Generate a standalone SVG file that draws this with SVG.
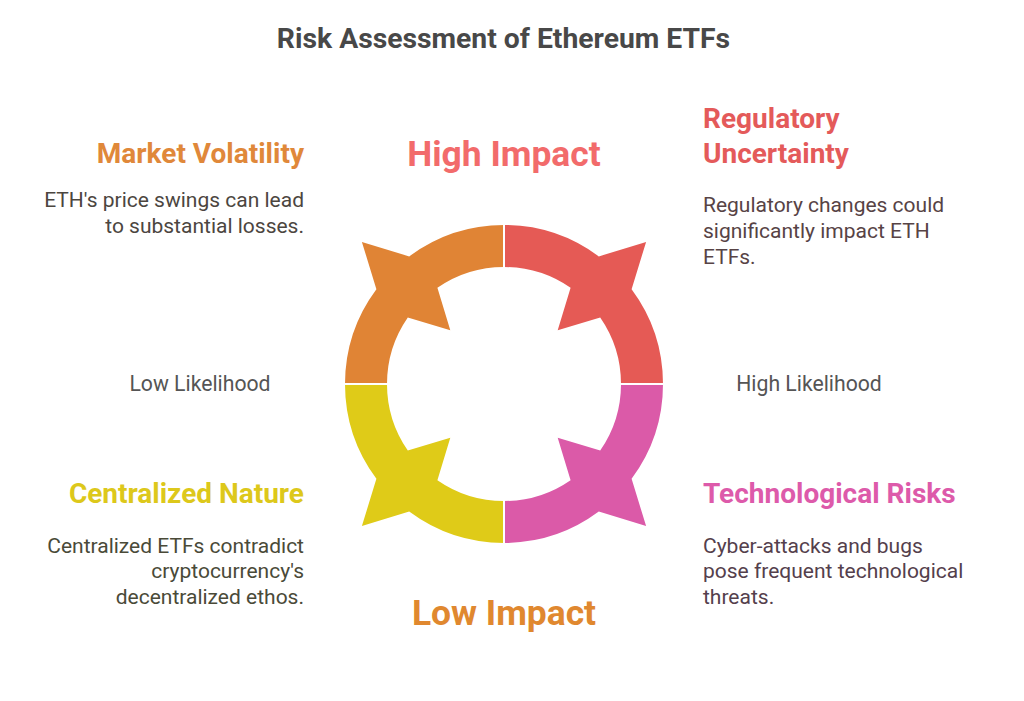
<svg xmlns="http://www.w3.org/2000/svg" width="1024" height="701" viewBox="0 0 1024 701">
<style>
text{font-family:Roboto,"Liberation Sans",sans-serif}
.title{font-size:28.3px;font-weight:700;fill:#484848}
.axis{font-size:35.4px;font-weight:700}
.head{font-size:28px;font-weight:700}
.desc{font-size:21px}
.lbl{font-size:21.2px;fill:#555555}
.r{text-anchor:end}
.m{text-anchor:middle}
</style>
<defs>
<path id="q" d="M-159,0 A159,159 0 0 1 -127.6,-94.8 L-142.1,-142.1 L-94.8,-127.6 A159,159 0 0 1 0,-159 L0,-117 A117,117 0 0 0 -66.6,-96.2 L-53.7,-53.7 L-96.2,-66.6 A117,117 0 0 0 -117,0 Z"/>
</defs>
<rect width="1024" height="701" fill="#ffffff"/>
<text class="title m" x="503.5" y="48">Risk Assessment of Ethereum ETFs</text>
<text class="axis m" x="504" y="166" fill="#F26B6B">High Impact</text>
<text class="axis m" x="504" y="625" fill="#E0882F">Low Impact</text>
<text class="lbl m" x="200" y="391">Low Likelihood</text>
<text class="lbl m" x="809" y="391">High Likelihood</text>
<g id="market-volatility">
<use href="#q" transform="translate(504,384)" fill="#E08435"/>
<text class="head r" x="304" y="163" fill="#E0883A">Market Volatility</text>
<text class="desc r" x="304" y="207" fill="#4C463F">ETH's price swings can lead</text>
<text class="desc r" x="304" y="233" fill="#4C463F">to substantial losses.</text>
</g>
<g id="regulatory-uncertainty">
<use href="#q" transform="translate(504,384) rotate(90)" fill="#E55A55"/>
<text class="head" x="703" y="128" fill="#E45A5A">Regulatory</text>
<text class="head" x="703" y="163" fill="#E45A5A">Uncertainty</text>
<text class="desc" x="703" y="212" fill="#574345">Regulatory changes could</text>
<text class="desc" x="703" y="238" fill="#574345">significantly impact ETH</text>
<text class="desc" x="703" y="264" fill="#574345">ETFs.</text>
</g>
<g id="technological-risks">
<use href="#q" transform="translate(504,384) rotate(180)" fill="#DB5AA8"/>
<text class="head" x="703" y="503" fill="#DD5AAA">Technological Risks</text>
<text class="desc" x="703" y="553" fill="#54404C">Cyber-attacks and bugs</text>
<text class="desc" x="703" y="578" fill="#54404C">pose frequent technological</text>
<text class="desc" x="703" y="604" fill="#54404C">threats.</text>
</g>
<g id="centralized-nature">
<use href="#q" transform="translate(504,384) rotate(270)" fill="#DFCB18"/>
<text class="head r" x="304" y="503" fill="#DDC81B">Centralized Nature</text>
<text class="desc r" x="304" y="553" fill="#4A4A38">Centralized ETFs contradict</text>
<text class="desc r" x="304" y="578" fill="#4A4A38">cryptocurrency's</text>
<text class="desc r" x="304" y="604" fill="#4A4A38">decentralized ethos.</text>
</g>
<g id="connectors" stroke="#ffffff" stroke-width="2">
<line x1="504" y1="215" x2="504" y2="553"/>
<line x1="335" y1="384" x2="673" y2="384"/>
</g>
</svg>
